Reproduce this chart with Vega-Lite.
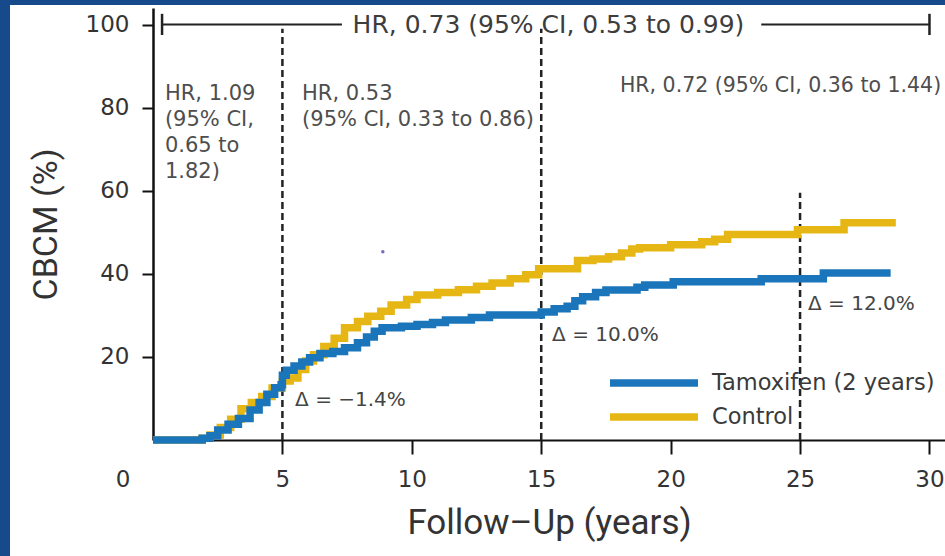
{
  "$schema": "https://vega.github.io/schema/vega-lite/v6.json",
  "width": 792,
  "height": 432,
  "autosize": {"type": "none"},
  "padding": {"left": 153, "top": 8, "right": 0, "bottom": 116},
  "background": "#ffffff",
  "config": {
    "view": {"stroke": null},
    "font": "DejaVu Sans",
    "text": {"font": "DejaVu Sans"}
  },
  "datasets": {
    "curves": [
      {"group": "Control", "year": 0, "cbcm": 0},
      {"group": "Control", "year": 1.9, "cbcm": 0.4},
      {"group": "Control", "year": 2.2, "cbcm": 1.2},
      {"group": "Control", "year": 2.6, "cbcm": 3.0},
      {"group": "Control", "year": 3.0, "cbcm": 5.0},
      {"group": "Control", "year": 3.4, "cbcm": 7.5},
      {"group": "Control", "year": 3.8, "cbcm": 9.0},
      {"group": "Control", "year": 4.2, "cbcm": 10.5},
      {"group": "Control", "year": 4.6, "cbcm": 12.5},
      {"group": "Control", "year": 5.0, "cbcm": 14.2},
      {"group": "Control", "year": 5.3, "cbcm": 14.9},
      {"group": "Control", "year": 5.6, "cbcm": 17.0},
      {"group": "Control", "year": 5.9, "cbcm": 19.0},
      {"group": "Control", "year": 6.2, "cbcm": 20.5},
      {"group": "Control", "year": 6.6, "cbcm": 22.5},
      {"group": "Control", "year": 7.0, "cbcm": 24.5},
      {"group": "Control", "year": 7.4, "cbcm": 27.0},
      {"group": "Control", "year": 7.9, "cbcm": 28.5},
      {"group": "Control", "year": 8.3, "cbcm": 29.8},
      {"group": "Control", "year": 8.8, "cbcm": 31.0},
      {"group": "Control", "year": 9.2, "cbcm": 32.5},
      {"group": "Control", "year": 9.8, "cbcm": 33.8},
      {"group": "Control", "year": 10.2, "cbcm": 34.9},
      {"group": "Control", "year": 11.0, "cbcm": 35.5},
      {"group": "Control", "year": 11.8, "cbcm": 36.2},
      {"group": "Control", "year": 12.5, "cbcm": 37.0},
      {"group": "Control", "year": 13.1, "cbcm": 37.8},
      {"group": "Control", "year": 13.8, "cbcm": 38.8},
      {"group": "Control", "year": 14.4, "cbcm": 39.8},
      {"group": "Control", "year": 14.9, "cbcm": 41.2},
      {"group": "Control", "year": 16.4, "cbcm": 43.2},
      {"group": "Control", "year": 17.0, "cbcm": 43.6},
      {"group": "Control", "year": 17.6, "cbcm": 44.1},
      {"group": "Control", "year": 18.1, "cbcm": 45.0},
      {"group": "Control", "year": 18.5, "cbcm": 46.0},
      {"group": "Control", "year": 18.8, "cbcm": 46.3},
      {"group": "Control", "year": 20.0, "cbcm": 47.0},
      {"group": "Control", "year": 21.2, "cbcm": 47.7},
      {"group": "Control", "year": 21.7, "cbcm": 48.3},
      {"group": "Control", "year": 22.2, "cbcm": 49.5},
      {"group": "Control", "year": 24.9, "cbcm": 50.6},
      {"group": "Control", "year": 26.7, "cbcm": 52.3},
      {"group": "Control", "year": 28.7, "cbcm": 52.3},
      {"group": "Tamoxifen (2 years)", "year": 0, "cbcm": 0},
      {"group": "Tamoxifen (2 years)", "year": 1.9, "cbcm": 0.4},
      {"group": "Tamoxifen (2 years)", "year": 2.2, "cbcm": 1.0},
      {"group": "Tamoxifen (2 years)", "year": 2.5, "cbcm": 2.4},
      {"group": "Tamoxifen (2 years)", "year": 2.9, "cbcm": 3.8},
      {"group": "Tamoxifen (2 years)", "year": 3.3, "cbcm": 5.2},
      {"group": "Tamoxifen (2 years)", "year": 3.75, "cbcm": 7.2},
      {"group": "Tamoxifen (2 years)", "year": 4.1, "cbcm": 9.0},
      {"group": "Tamoxifen (2 years)", "year": 4.4, "cbcm": 11.0},
      {"group": "Tamoxifen (2 years)", "year": 4.7, "cbcm": 12.6},
      {"group": "Tamoxifen (2 years)", "year": 4.95, "cbcm": 13.3},
      {"group": "Tamoxifen (2 years)", "year": 5.0, "cbcm": 15.6},
      {"group": "Tamoxifen (2 years)", "year": 5.15, "cbcm": 16.8},
      {"group": "Tamoxifen (2 years)", "year": 5.45, "cbcm": 17.8},
      {"group": "Tamoxifen (2 years)", "year": 5.75, "cbcm": 18.8},
      {"group": "Tamoxifen (2 years)", "year": 6.05, "cbcm": 19.8},
      {"group": "Tamoxifen (2 years)", "year": 6.45, "cbcm": 20.8},
      {"group": "Tamoxifen (2 years)", "year": 6.95, "cbcm": 21.3},
      {"group": "Tamoxifen (2 years)", "year": 7.4, "cbcm": 22.2},
      {"group": "Tamoxifen (2 years)", "year": 7.9, "cbcm": 23.4},
      {"group": "Tamoxifen (2 years)", "year": 8.25, "cbcm": 24.8},
      {"group": "Tamoxifen (2 years)", "year": 8.55, "cbcm": 26.2},
      {"group": "Tamoxifen (2 years)", "year": 8.85, "cbcm": 27.0},
      {"group": "Tamoxifen (2 years)", "year": 9.6, "cbcm": 27.4},
      {"group": "Tamoxifen (2 years)", "year": 10.2, "cbcm": 27.8},
      {"group": "Tamoxifen (2 years)", "year": 10.8, "cbcm": 28.3},
      {"group": "Tamoxifen (2 years)", "year": 11.3, "cbcm": 28.9},
      {"group": "Tamoxifen (2 years)", "year": 12.3, "cbcm": 29.5},
      {"group": "Tamoxifen (2 years)", "year": 13.0, "cbcm": 30.1},
      {"group": "Tamoxifen (2 years)", "year": 15.0, "cbcm": 30.8},
      {"group": "Tamoxifen (2 years)", "year": 15.5, "cbcm": 31.6},
      {"group": "Tamoxifen (2 years)", "year": 16.0, "cbcm": 32.2},
      {"group": "Tamoxifen (2 years)", "year": 16.3, "cbcm": 33.5},
      {"group": "Tamoxifen (2 years)", "year": 16.6, "cbcm": 34.5},
      {"group": "Tamoxifen (2 years)", "year": 17.1, "cbcm": 35.5},
      {"group": "Tamoxifen (2 years)", "year": 17.5, "cbcm": 36.1},
      {"group": "Tamoxifen (2 years)", "year": 18.7, "cbcm": 36.8},
      {"group": "Tamoxifen (2 years)", "year": 19.0, "cbcm": 37.3},
      {"group": "Tamoxifen (2 years)", "year": 20.1, "cbcm": 38.1},
      {"group": "Tamoxifen (2 years)", "year": 23.5, "cbcm": 38.8},
      {"group": "Tamoxifen (2 years)", "year": 25.9, "cbcm": 40.2},
      {"group": "Tamoxifen (2 years)", "year": 28.5, "cbcm": 40.2}
    ],
    "cutpoints": [
      {"year": 5, "low": 0, "high": 99},
      {"year": 15, "low": 0, "high": 99},
      {"year": 25, "low": 0, "high": 59.5}
    ],
    "overall": [
      {"year": 0.35, "end": 7.3, "level": 100},
      {"year": 23.5, "end": 30, "level": 100}
    ],
    "caps": [
      {"year": 0.35, "low": 97.5, "high": 102.6},
      {"year": 30, "low": 97.5, "high": 102.6}
    ],
    "headline": [
      {"year": 15.28, "cbcm": 100, "note": "HR, 0.73 (95% CI, 0.53 to 0.99)"}
    ],
    "periods": [
      {"year": 0.46, "cbcm": 81.8, "note": "HR, 1.09\n(95% CI,\n0.65 to\n1.82)"},
      {"year": 5.76, "cbcm": 81.8, "note": "HR, 0.53\n(95% CI, 0.33 to 0.86)"}
    ],
    "lateperiod": [
      {"year": 18.04, "cbcm": 83.8, "note": "HR, 0.72 (95% CI, 0.36 to 1.44)"}
    ],
    "deltas": [
      {"year": 5.49, "cbcm": 9.6, "note": "Δ = −1.4%"},
      {"year": 15.42, "cbcm": 25.3, "note": "Δ = 10.0%"},
      {"year": 25.31, "cbcm": 32.7, "note": "Δ = 12.0%"}
    ],
    "frame": [
      {"x0": -7, "x1": -5.525, "y0": -40, "y1": 110},
      {"x0": -7, "x1": 40, "y0": 104.75, "y1": 110}
    ],
    "origin": [
      {"year": 0, "cbcm": 0, "note": "0"}
    ],
    "speck": [
      {"year": 8.88, "cbcm": 45.3}
    ]
  },
  "layer": [
    {
      "data": {"name": "frame"},
      "mark": {"type": "rect", "color": "#174a8b"},
      "encoding": {
        "x": {"field": "x0", "type": "quantitative"},
        "x2": {"field": "x1"},
        "y": {"field": "y0", "type": "quantitative"},
        "y2": {"field": "y1"}
      }
    },
    {
      "data": {"name": "cutpoints"},
      "mark": {"type": "rule", "color": "#222222", "strokeWidth": 2.5, "strokeDash": [7, 4]},
      "encoding": {
        "x": {"field": "year", "type": "quantitative"},
        "y": {"field": "low", "type": "quantitative"},
        "y2": {"field": "high"}
      }
    },
    {
      "data": {"name": "overall"},
      "mark": {"type": "rule", "color": "#222222", "strokeWidth": 2},
      "encoding": {
        "x": {"field": "year", "type": "quantitative"},
        "x2": {"field": "end"},
        "y": {"field": "level", "type": "quantitative"}
      }
    },
    {
      "data": {"name": "caps"},
      "mark": {"type": "rule", "color": "#222222", "strokeWidth": 2.5},
      "encoding": {
        "x": {"field": "year", "type": "quantitative"},
        "y": {"field": "low", "type": "quantitative"},
        "y2": {"field": "high"}
      }
    },
    {
      "data": {"name": "headline"},
      "mark": {"type": "text", "fontSize": 25, "color": "#3d3d3d", "align": "center", "baseline": "middle"},
      "encoding": {
        "x": {"field": "year", "type": "quantitative"},
        "y": {"field": "cbcm", "type": "quantitative"},
        "text": {"field": "note", "type": "nominal"}
      }
    },
    {
      "data": {"name": "periods"},
      "mark": {"type": "text", "fontSize": 21, "color": "#4e4e4e", "align": "left", "baseline": "alphabetic", "lineBreak": "\n", "lineHeight": 26},
      "encoding": {
        "x": {"field": "year", "type": "quantitative"},
        "y": {"field": "cbcm", "type": "quantitative"},
        "text": {"field": "note", "type": "nominal"}
      }
    },
    {
      "data": {"name": "lateperiod"},
      "mark": {"type": "text", "fontSize": 20.5, "color": "#4e4e4e", "align": "left", "baseline": "alphabetic"},
      "encoding": {
        "x": {"field": "year", "type": "quantitative"},
        "y": {"field": "cbcm", "type": "quantitative"},
        "text": {"field": "note", "type": "nominal"}
      }
    },
    {
      "data": {"name": "curves"},
      "transform": [{"filter": "datum.group === 'Control'"}],
      "mark": {"type": "line", "interpolate": "step-after", "strokeWidth": 7.5, "strokeCap": "butt", "strokeJoin": "miter"},
      "encoding": {
        "x": {
          "field": "year", "type": "quantitative",
          "scale": {"domain": [0, 30.6], "nice": false, "zero": false},
          "axis": {
            "title": "Follow–Up (years)",
            "values": [5, 10, 15, 20, 25, 30],
            "grid": false,
            "domainColor": "#111111", "domainWidth": 2,
            "tickColor": "#111111", "tickWidth": 2, "tickSize": 14,
            "labelFont": "DejaVu Sans", "labelFontSize": 23, "labelColor": "#333333",
            "labelPadding": 14, "labelFlush": false, "labelOverlap": false,
            "titleFont": "Roboto", "titleFontSize": 35, "titleFontWeight": "normal", "titleColor": "#333333",
            "titlePadding": 14
          }
        },
        "y": {
          "field": "cbcm", "type": "quantitative",
          "scale": {"domain": [0, 104], "nice": false},
          "axis": {
            "title": "CBCM (%)",
            "values": [20, 40, 60, 80, 100],
            "grid": false,
            "domainColor": "#111111", "domainWidth": 2.5,
            "tickColor": "#111111", "tickWidth": 2, "tickSize": 11,
            "labelFont": "DejaVu Sans", "labelFontSize": 23, "labelColor": "#333333",
            "labelPadding": 13,
            "titleFont": "Roboto", "titleFontSize": 34, "titleFontWeight": "normal", "titleColor": "#333333",
            "titlePadding": 22
          }
        },
        "color": {
          "field": "group", "type": "nominal",
          "scale": {"domain": ["Tamoxifen (2 years)", "Control"], "range": ["#1b75ba", "#e6b714"]},
          "legend": {
            "title": null,
            "orient": "none",
            "legendX": 453,
            "legendY": 359,
            "padding": 0,
            "symbolType": "stroke",
            "symbolSize": 7744,
            "symbolStrokeWidth": 7.5,
            "clipHeight": 32,
            "labelFont": "DejaVu Sans",
            "labelFontSize": 22.5,
            "labelColor": "#3a3a3a",
            "labelOffset": 10,
            "labelLimit": 0,
            "rowPadding": 2
          }
        }
      }
    },
    {
      "data": {"name": "curves"},
      "transform": [{"filter": "datum.group !== 'Control'"}],
      "mark": {"type": "line", "interpolate": "step-after", "strokeWidth": 7.5, "strokeCap": "butt", "strokeJoin": "miter"},
      "encoding": {
        "x": {"field": "year", "type": "quantitative"},
        "y": {"field": "cbcm", "type": "quantitative"},
        "color": {"field": "group", "type": "nominal"}
      }
    },
    {
      "data": {"name": "deltas"},
      "mark": {"type": "text", "fontSize": 20, "color": "#454545", "align": "left", "baseline": "middle"},
      "encoding": {
        "x": {"field": "year", "type": "quantitative"},
        "y": {"field": "cbcm", "type": "quantitative"},
        "text": {"field": "note", "type": "nominal"}
      }
    },
    {
      "data": {"name": "origin"},
      "mark": {"type": "text", "fontSize": 23, "color": "#333333", "align": "center", "baseline": "top", "dx": -30, "dy": 29},
      "encoding": {
        "x": {"field": "year", "type": "quantitative"},
        "y": {"field": "cbcm", "type": "quantitative"},
        "text": {"field": "note", "type": "nominal"}
      }
    },
    {
      "data": {"name": "speck"},
      "mark": {"type": "circle", "size": 12, "color": "#4f46a6", "opacity": 0.8},
      "encoding": {
        "x": {"field": "year", "type": "quantitative"},
        "y": {"field": "cbcm", "type": "quantitative"}
      }
    }
  ]
}
